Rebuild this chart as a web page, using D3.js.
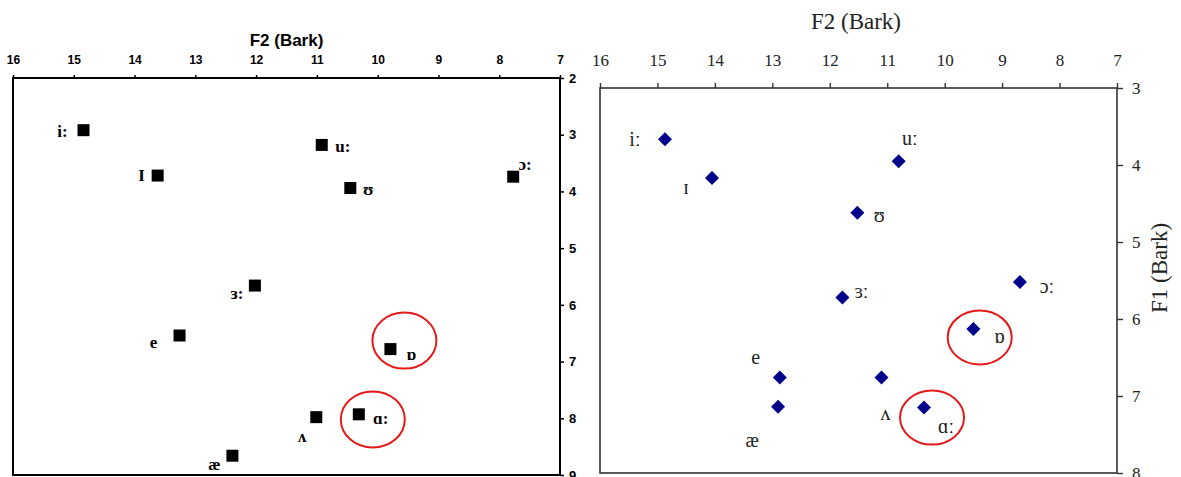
<!DOCTYPE html>
<html><head><meta charset="utf-8">
<script src="https://cdn.jsdelivr.net/npm/d3@7"></script>
<style>body{margin:0;background:#fff}svg{display:block}</style>
</head><body>
<svg id="c" width="1181" height="477"></svg>
<script>
// ---- data ----
const f2Ticks = [16,15,14,13,12,11,10,9,8,7];
const leftF1Ticks = [2,3,4,5,6,7,8,9];
const rightF1Ticks = [3,4,5,6,7,8];

const leftVowels = ["i:","u:","I","ʊ","ɔ:","ɜ:","e","ɒ","ʌ","ɑ:","æ"];
const leftF2 =     [14.84,10.92,13.62,10.45,7.77,12.02,13.26,9.79,11.01,10.31,12.39];
const leftF1 =     [2.92, 3.18, 3.72, 3.94, 3.74,5.66, 6.54, 6.78,7.98, 7.93, 8.66];
const leftCircleF2 = [9.56,10.08];
const leftCircleF1 = [6.63,8.02];

const rightVowels = ["iː","uː","ɪ","ʊ","ɔː","ɜː","ɒ","e","ʌ","æ","ɑː"];
const rightF2 =     [14.87,10.80,14.05,11.52,8.69,11.78,9.50,12.87,11.10,12.90,10.36];
const rightF1 =     [3.665,3.95,4.17,4.62,5.52,5.72,6.13,6.76,6.76,7.14,7.15];
const rightCircleF2 = [9.39,10.22];
const rightCircleF1 = [6.24,7.28];

// ---- layout (label offsets in px, not data) ----
const leftLabelOff = [[-21,1],[21,2],[-16,0],[18,1],[12,-12],[-18,8],[-26,7],[21,5],[-14,19],[22,4],[-18,9]];
const rightLabelOff = [[-30,0],[11,-23],[-26,9],[22,2],[27,4],[19,-6],[26,7],[-24,-21],[4,35],[-26,33],[22,18]];

const svg = d3.select("#c");

// ================= LEFT PANEL =================
const x1 = d3.scaleLinear().domain([16,7]).range([13,560]);
const y1 = d3.scaleLinear().domain([2,9]).range([78,475]);
const L = svg.append("g");

L.append("rect").attr("x",x1(16)).attr("y",y1(2)).attr("width",x1(7)-x1(16)).attr("height",y1(9)-y1(2))
  .attr("fill","none").attr("stroke","#000").attr("stroke-width",2);

const la = L.append("g").attr("transform",`translate(0,${y1(2)})`)
  .call(d3.axisTop(x1).tickValues(f2Ticks).tickSize(3).tickPadding(11).tickFormat(d3.format("d")));
la.select(".domain").remove();
la.selectAll("line").attr("stroke","#000").attr("stroke-width",1.5);
la.selectAll("text").attr("font-family","Liberation Sans, Arial, sans-serif").attr("font-weight","bold").attr("font-size",12).attr("fill","#000");

const lr = L.append("g").attr("transform",`translate(${x1(7)},0)`)
  .call(d3.axisRight(y1).tickValues(leftF1Ticks).tickSize(4).tickPadding(5).tickFormat(d3.format("d")));
lr.select(".domain").remove();
lr.selectAll("line").attr("stroke","#000").attr("stroke-width",1.5);
lr.selectAll("text").attr("font-family","Liberation Sans, Arial, sans-serif").attr("font-weight","bold").attr("font-size",13).attr("fill","#000");

L.append("text").attr("x",(x1(16)+x1(7))/2).attr("y",46).attr("text-anchor","middle")
  .attr("font-family","Liberation Sans, Arial, sans-serif").attr("font-weight","bold").attr("font-size",17).text("F2 (Bark)");

const ms = 12;
L.selectAll("rect.pt").data(leftVowels).enter().append("rect").attr("class","pt")
  .attr("x",(d,i)=>x1(leftF2[i])-ms/2).attr("y",(d,i)=>y1(leftF1[i])-ms/2)
  .attr("width",ms).attr("height",ms).attr("fill","#000");
L.selectAll("text.lab").data(leftVowels).enter().append("text").attr("class","lab")
  .attr("x",(d,i)=>x1(leftF2[i])+leftLabelOff[i][0]).attr("y",(d,i)=>y1(leftF1[i])+leftLabelOff[i][1])
  .attr("text-anchor","middle").attr("dominant-baseline","central")
  .attr("font-family","Liberation Serif, DejaVu Serif, serif").attr("font-weight","bold").attr("font-size",17)
  .text(d=>d);
L.selectAll("ellipse").data(leftCircleF2).enter().append("ellipse")
  .attr("cx",(d)=>x1(d)).attr("cy",(d,i)=>y1(leftCircleF1[i])).attr("rx",32).attr("ry",28)
  .attr("fill","none").attr("stroke","#e41a1a").attr("stroke-width",2);

// ================= RIGHT PANEL =================
const x2 = d3.scaleLinear().domain([16,7]).range([600,1117]);
const y2 = d3.scaleLinear().domain([3,8]).range([88,473]);
const R = svg.append("g");
const serif = "Liberation Serif, Times New Roman, DejaVu Serif, serif";

R.append("rect").attr("x",x2(16)).attr("y",y2(3)).attr("width",x2(7)-x2(16)).attr("height",y2(8)-y2(3))
  .attr("fill","none").attr("stroke","#333").attr("stroke-width",1.6);

const ra = R.append("g").attr("transform",`translate(0,${y2(3)})`)
  .call(d3.axisTop(x2).tickValues(f2Ticks).tickSize(5).tickPadding(17).tickFormat(d3.format("d")));
ra.select(".domain").remove();
ra.selectAll("line").attr("stroke","#333").attr("stroke-width",1.4);
ra.selectAll("text").attr("font-family",serif).attr("font-size",17).attr("fill","#222");

const rr = R.append("g").attr("transform",`translate(${x2(7)},0)`)
  .call(d3.axisRight(y2).tickValues(rightF1Ticks).tickSize(6).tickPadding(9).tickFormat(d3.format("d")));
rr.select(".domain").remove();
rr.selectAll("line").attr("stroke","#333").attr("stroke-width",1.4);
rr.selectAll("text").attr("font-family",serif).attr("font-size",17).attr("fill","#222");

R.append("text").attr("x",856).attr("y",29).attr("text-anchor","middle")
  .attr("font-family",serif).attr("font-size",23).attr("fill","#222").text("F2 (Bark)");
R.append("text").attr("transform","translate(1167,268) rotate(-90)").attr("text-anchor","middle")
  .attr("font-family",serif).attr("font-size",23).attr("fill","#222").text("F1 (Bark)");

const dsz = 7;
R.selectAll("path.pt").data(rightVowels).enter().append("path").attr("class","pt")
  .attr("d",`M0,${-dsz}L${dsz},0L0,${dsz}L${-dsz},0Z`)
  .attr("transform",(d,i)=>`translate(${x2(rightF2[i])},${y2(rightF1[i])})`)
  .attr("fill","#00008b");
R.selectAll("text.lab").data(rightVowels).enter().append("text").attr("class","lab")
  .attr("x",(d,i)=>x2(rightF2[i])+rightLabelOff[i][0]).attr("y",(d,i)=>y2(rightF1[i])+rightLabelOff[i][1])
  .attr("text-anchor","middle").attr("dominant-baseline","central")
  .attr("font-family",serif).attr("font-size",20).attr("fill","#222")
  .text(d=>d);
R.selectAll("ellipse").data(rightCircleF2).enter().append("ellipse")
  .attr("cx",(d)=>x2(d)).attr("cy",(d,i)=>y2(rightCircleF1[i])).attr("rx",32).attr("ry",27)
  .attr("fill","none").attr("stroke","#e41a1a").attr("stroke-width",2);
</script>
</body></html>
